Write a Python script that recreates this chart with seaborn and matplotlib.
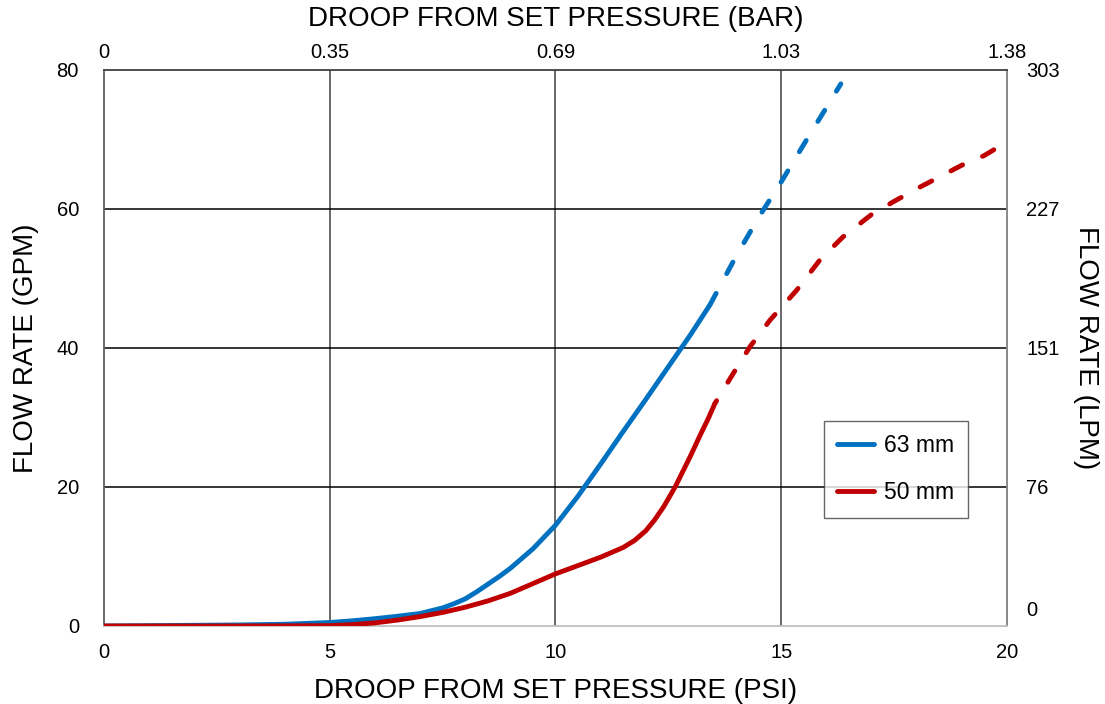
import matplotlib
matplotlib.use("Agg")
import matplotlib.pyplot as plt
import matplotlib.transforms as mtransforms
from matplotlib.lines import Line2D
import seaborn as sns

# Dados (PSI x GPM)
psi_63_solid = [0, 1, 2, 3, 4, 5, 5.5, 6, 6.5, 7, 7.5, 7.75, 8, 8.25, 8.5, 8.75, 9, 9.5, 10, 10.5, 11, 11.5, 12, 12.5, 13, 13.42]
gpm_63_solid = [0, 0.05, 0.1, 0.15, 0.25, 0.5, 0.75, 1.05, 1.4, 1.8, 2.6, 3.2, 3.9, 4.9, 6.0, 7.1, 8.3, 11.1, 14.5, 18.7, 23.3, 28.0, 32.6, 37.3, 42.0, 46.2]
psi_63_dash = [13.42, 14, 14.5, 15, 15.5, 16, 16.32]
gpm_63_dash = [46.2, 53.2, 58.8, 63.9, 69.3, 74.6, 78.0]

psi_50_solid = [0, 1, 2, 3, 4, 5, 5.5, 6, 6.5, 7, 7.5, 8, 8.5, 9, 9.5, 10, 10.5, 11, 11.5, 11.75, 12, 12.2, 12.4, 12.65, 13, 13.2, 13.38, 13.53]
gpm_50_solid = [0, 0, 0, 0, 0.02, 0.05, 0.2, 0.45, 0.85, 1.35, 1.95, 2.7, 3.6, 4.7, 6.1, 7.5, 8.7, 9.9, 11.3, 12.3, 13.7, 15.3, 17.2, 20.0, 24.6, 27.4, 29.8, 32.0]
psi_50_dash = [13.53, 14, 14.31, 14.75, 15.34, 15.86, 16.37, 17, 17.5, 18, 18.5, 19, 19.5, 19.78]
gpm_50_dash = [32.0, 37.0, 40.2, 44.0, 48.3, 52.7, 56.0, 59.2, 61.1, 62.9, 64.6, 66.3, 67.7, 68.8]

psi_ticks = [0, 5, 10, 15, 20]
bar_labels = ['0', '0.35', '0.69', '1.03', '1.38']
gpm_ticks = [0, 20, 40, 60, 80]
lpm_labels = ['0', '76', '151', '227', '303']

azul = '#0070C0'
vermelho = '#C00000'

sns.set_style("white")
plt.rcParams['font.family'] = ['Liberation Sans', 'DejaVu Sans']
plt.rcParams['text.color'] = 'black'
plt.rcParams['axes.labelcolor'] = 'black'

fig = plt.figure(figsize=(11.05, 7.04), dpi=100)
ax = fig.add_axes([0.0941, 0.1108, 0.8172, 0.7898])

lw = 3.5

sns.lineplot(x=psi_63_solid, y=gpm_63_solid, color=azul, linewidth=lw, ax=ax)
sns.lineplot(x=psi_63_dash, y=gpm_63_dash, color=azul, linewidth=lw, ax=ax)
ax.lines[-1].set_linestyle((0, (2.7, 4.6)))
sns.lineplot(x=psi_50_solid, y=gpm_50_solid, color=vermelho, linewidth=lw, ax=ax)
sns.lineplot(x=psi_50_dash, y=gpm_50_dash, color=vermelho, linewidth=lw, ax=ax)
ax.lines[-1].set_linestyle((2.0, (2.7, 4.45)))
for ln in ax.lines:
    ln.set_solid_capstyle('round')
    ln.set_solid_joinstyle('round')
    ln.set_dash_capstyle('round')
    ln.set_zorder(3)

ax.set_xlim(0, 20)
ax.set_ylim(0, 80)
ax.set_xticks(psi_ticks)
ax.set_yticks(gpm_ticks)
ax.tick_params(length=0, labelsize=14.5, colors='black')
ax.tick_params(axis='x', pad=12)
ax.tick_params(axis='y', pad=18)

# grade
for v in [5, 10, 15]:
    ax.axvline(v, color='#404040', lw=1.1, zorder=1)
for h in [20, 40, 60]:
    ax.axhline(h, color='black', lw=1.1, zorder=1)

ax.spines['top'].set_color('#404040')
ax.spines['left'].set_color('#606060')
ax.spines['right'].set_color('#808080')
ax.spines['bottom'].set_color('#c0c0c0')
for s in ax.spines.values():
    s.set_linewidth(1.3)

ax.set_xlabel('DROOP FROM SET PRESSURE (PSI)', fontsize=20, labelpad=12)
ax.set_ylabel('FLOW RATE (GPM)', fontsize=20, labelpad=13)

# eixo superior (BAR)
top = ax.secondary_xaxis('top')
top.set_xticks(psi_ticks)
top.set_xticklabels(bar_labels)
top.tick_params(length=0, labelsize=14.5, pad=6, colors='black')
top.spines['top'].set_visible(False)
top.set_xlabel('DROOP FROM SET PRESSURE (BAR)', fontsize=20, labelpad=12)

# eixo direito (LPM)
right = ax.secondary_yaxis('right')
right.set_yticks(gpm_ticks)
right.set_yticklabels(lpm_labels)
right.tick_params(length=0, labelsize=14.5, pad=14, colors='black')
right.spines['right'].set_visible(False)
right.set_ylabel('FLOW RATE (LPM)', fontsize=20, rotation=270, labelpad=28)
zero_lbl = right.yaxis.get_major_ticks()[0].label2
zero_lbl.set_transform(zero_lbl.get_transform() +
                       mtransforms.ScaledTranslation(0, 17 / 100, fig.dpi_scale_trans))

handles = [Line2D([], [], color=azul, lw=lw, solid_capstyle='round'),
           Line2D([], [], color=vermelho, lw=lw, solid_capstyle='round')]
leg = ax.legend(handles, ['63 mm', '50 mm'], loc='lower left',
                bbox_to_anchor=(0.797, 0.194), borderaxespad=0, fontsize=16.5,
                frameon=True, fancybox=False, handlelength=1.6, handletextpad=0.45,
                labelspacing=1.05, borderpad=0.6)
leg.get_frame().set_edgecolor('#404040')
leg.get_frame().set_linewidth(1.0)
leg.set_zorder(5)

plt.savefig("out.png", dpi=100)
print("Gráfico feito")
